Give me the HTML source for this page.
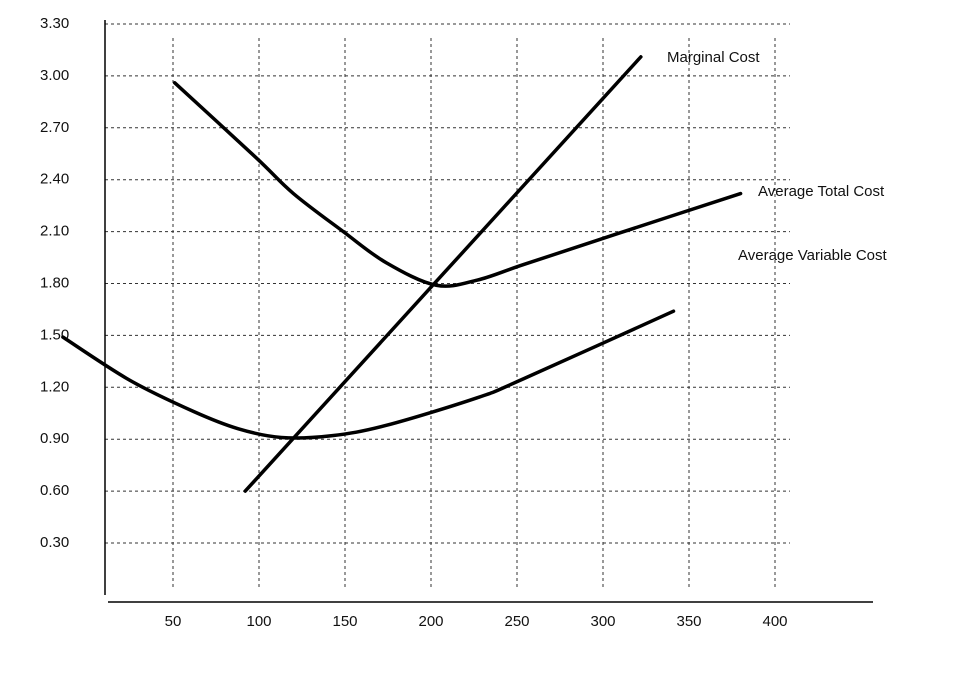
<!DOCTYPE html>
<html><head><meta charset="utf-8"><style>
html,body{margin:0;padding:0;background:#fff;}
svg{display:block;font-family:"Liberation Sans",sans-serif;}
</style></head><body>
<svg id="chart" width="966" height="694" viewBox="0 0 966 694">
<g id="grid"></g>
<g id="axes"></g>
<g id="series"></g>
<g id="labels"></g>
</svg>
<script>
const xTicks=[50,100,150,200,250,300,350,400];
const yTicks=[3.30,3.00,2.70,2.40,2.10,1.80,1.50,1.20,0.90,0.60,0.30];
const mcX=[92,322];
const mcY=[0.60,3.11];
const atcX=[51,98,120,149,174,203,227,254,309,380];
const atcY=[2.96,2.53,2.32,2.10,1.92,1.79,1.82,1.91,2.09,2.32];
const avcX=[-14,25,62,88,113,142,174,227,254,341];
const avcY=[1.49,1.24,1.06,0.96,0.91,0.92,0.98,1.14,1.25,1.64];
const seriesNames=["Marginal Cost","Average Total Cost","Average Variable Cost"];

const NS="http://www.w3.org/2000/svg";
function sx(v){return 173+(v-50)*1.72;}
function sy(v){return 24+(3.30-v)*173;}
function mk(tag,attrs,parent){const e=document.createElementNS(NS,tag);for(const k in attrs)e.setAttribute(k,attrs[k]);parent.appendChild(e);return e;}
const grid=document.getElementById('grid'),axes=document.getElementById('axes'),series=document.getElementById('series'),labels=document.getElementById('labels');
yTicks.forEach(t=>{
  const l=mk('line',{x1:105,x2:790,y1:sy(t),y2:sy(t),stroke:'#333','stroke-width':1,'stroke-dasharray':'3,3'},grid);
  
  
  const tx=mk('text',{x:40,y:sy(t)+4,'font-size':15,fill:'#111'},axes);
  tx.textContent=t.toFixed(2);
  
  
});
xTicks.forEach(t=>{
  const l=mk('line',{x1:sx(t),x2:sx(t),y1:38,y2:590,stroke:'#333','stroke-width':1,'stroke-dasharray':'3,3'},grid);
  
  
  const tx=mk('text',{x:sx(t),y:626,'font-size':15,fill:'#111','text-anchor':'middle'},axes);
  tx.textContent=String(t);
  
  
});
const ya=mk('line',{x1:105,x2:105,y1:20,y2:595,stroke:'#000','stroke-width':1.5},axes);


const xa=mk('line',{x1:108,x2:873,y1:602,y2:602,stroke:'#000','stroke-width':1.5},axes);


function smooth(xs,ys){
  const p=xs.map((x,i)=>[sx(x),sy(ys[i])]);
  let d='M'+p[0][0]+','+p[0][1];
  for(let i=0;i<p.length-1;i++){
    const p0=p[Math.max(0,i-1)],p1=p[i],p2=p[i+1],p3=p[Math.min(p.length-1,i+2)];
    const c1=[p1[0]+(p2[0]-p0[0])/6,p1[1]+(p2[1]-p0[1])/6];
    const c2=[p2[0]-(p3[0]-p1[0])/6,p2[1]-(p3[1]-p1[1])/6];
    d+=' C'+c1+' '+c2+' '+p2;
  }
  return d;
}
const st={fill:'none',stroke:'#000','stroke-width':3.5,'stroke-linecap':'round','stroke-linejoin':'round'};
const mc=mk('path',Object.assign({d:smooth(mcX,mcY)},st),series);


const atc=mk('path',Object.assign({d:smooth(atcX,atcY)},st),series);


const avc=mk('path',Object.assign({d:smooth(avcX,avcY)},st),series);


const lp=[[667,62],[758,196],[738,260]];
const ln=['marginal-cost-label','average-total-cost-label','average-variable-cost-label'];
seriesNames.forEach((n,i)=>{
  const t=mk('text',{x:lp[i][0],y:lp[i][1],'font-size':15,fill:'#111'},labels);
  t.textContent=n;
  
  
});
</script>
</body></html>
